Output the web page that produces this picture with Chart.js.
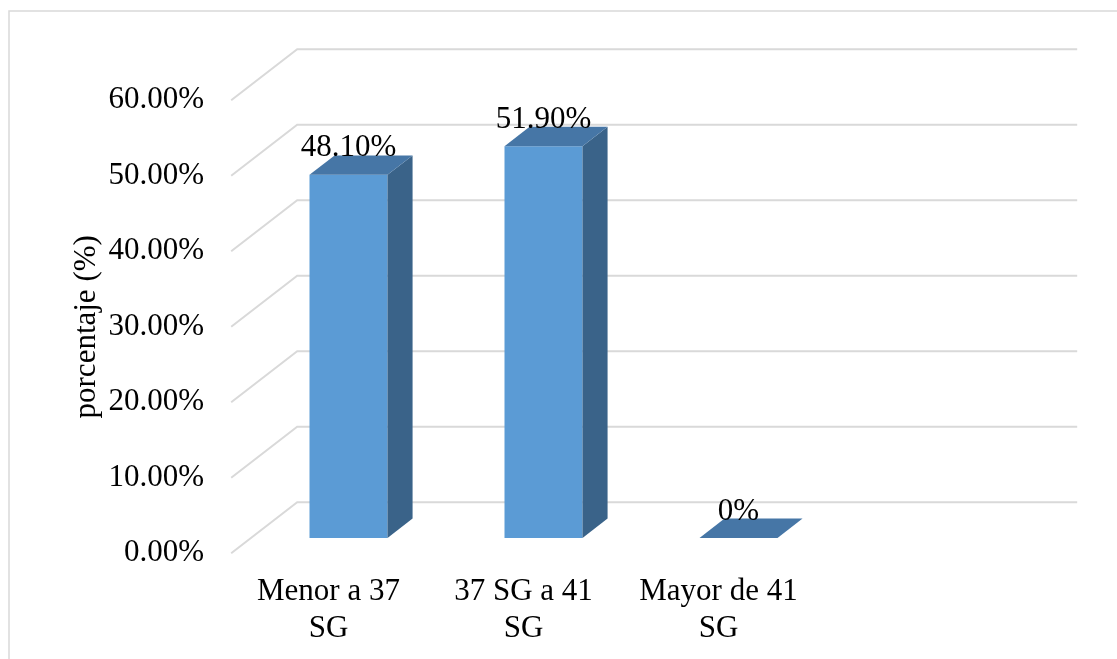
<!DOCTYPE html>
<html lang="es">
<head>
<meta charset="UTF-8">
<title>Edad gestacional</title>
<script src="https://cdn.jsdelivr.net/npm/chart.js"></script>
<style>
  html, body { margin: 0; padding: 0; background: #fff; }
  canvas { display: block; }
</style>
</head>
<body>
<canvas id="sgChart" width="1117" height="659"></canvas>
<script>
  // categorías (el cuarto hueco queda vacío, como en el gráfico 3D original)
  const categorias = [["Menor a 37", "SG"], ["37 SG a 41", "SG"], ["Mayor de 41", "SG"], ""];
  const porcentajes = [48.1, 51.9, 0, null];
  const ticksY = [0, 10, 20, 30, 40, 50, 60];
  const tituloY = "porcentaje (%)";

  const FUENTE = "'Liberation Serif', 'Times New Roman', serif";
  const FRENTE = "#5B9BD5", LADO = "#3A6389", TAPA = "#4676A6", REJILLA = "#D9D9D9";

  // vector de profundidad del piso; las barras van de 0.3 a 0.68 de esa profundidad
  const PISO = { dx: 66, dy: -51 };
  const POS_BARRA = 0.3, FONDO_BARRA = 0.68;

  const texto = v => v === 0 ? "0%" : v.toFixed(2) + "%";

  const efecto3d = {
    id: "efecto3d",
    beforeDatasetsDraw(chart) {
      const { ctx, chartArea: a, scales: { y } } = chart;
      ctx.save();
      // marco exterior
      ctx.strokeStyle = REJILLA;
      ctx.lineWidth = 1.5;
      ctx.strokeRect(9, 11, 1200, 700);
      // líneas de la pared lateral y de la pared del fondo
      ctx.lineWidth = 2;
      const fx = -POS_BARRA * PISO.dx, fy = -POS_BARRA * PISO.dy;
      const bx = (1 - POS_BARRA) * PISO.dx, by = (1 - POS_BARRA) * PISO.dy;
      ticksY.forEach(v => {
        const py = y.getPixelForValue(v);
        ctx.beginPath();
        ctx.moveTo(a.left + fx, py + fy);
        ctx.lineTo(a.left + bx, py + by);
        ctx.lineTo(a.right + bx, py + by);
        ctx.stroke();
      });
      ctx.restore();
    },
    afterDatasetsDraw(chart) {
      const { ctx } = chart;
      const meta = chart.getDatasetMeta(0);
      const ddx = (FONDO_BARRA - POS_BARRA) * PISO.dx;
      const ddy = (FONDO_BARRA - POS_BARRA) * PISO.dy;
      ctx.save();
      meta.data.forEach((bar, i) => {
        const v = porcentajes[i];
        if (v === null) return;
        const { x, y, base, width } = bar.getProps(["x", "y", "base", "width"], true);
        const l = x - width / 2, r = x + width / 2;
        // cara lateral
        if (base - y > 0.5) {
          ctx.fillStyle = LADO;
          ctx.beginPath();
          ctx.moveTo(r, y);
          ctx.lineTo(r + ddx, y + ddy);
          ctx.lineTo(r + ddx, base + ddy);
          ctx.lineTo(r, base);
          ctx.closePath();
          ctx.fill();
        }
        // tapa superior
        ctx.fillStyle = TAPA;
        ctx.beginPath();
        ctx.moveTo(l, y);
        ctx.lineTo(r, y);
        ctx.lineTo(r + ddx, y + ddy);
        ctx.lineTo(l + ddx, y + ddy);
        ctx.closePath();
        ctx.fill();
        // etiqueta de valor
        ctx.fillStyle = "#000";
        ctx.font = "31px " + FUENTE;
        ctx.textAlign = "center";
        ctx.textBaseline = "alphabetic";
        ctx.fillText(texto(v), x, y + ddy + 1);
      });
      ctx.restore();
    },
    afterDraw(chart) {
      const { ctx, scales: { y } } = chart;
      const cy = (y.getPixelForValue(0) + y.getPixelForValue(60)) / 2 - POS_BARRA * PISO.dy;
      ctx.save();
      ctx.translate(87, cy);
      ctx.rotate(-Math.PI / 2);
      ctx.fillStyle = "#000";
      ctx.font = "31px " + FUENTE;
      ctx.textAlign = "center";
      ctx.textBaseline = "middle";
      ctx.fillText(tituloY, 0, 0);
      ctx.restore();
    }
  };

  new Chart(document.getElementById("sgChart"), {
    type: "bar",
    data: {
      labels: categorias,
      datasets: [{
        data: porcentajes,
        backgroundColor: FRENTE,
        borderWidth: 0,
        barPercentage: 0.4,
        categoryPercentage: 1
      }]
    },
    options: {
      responsive: false,
      animation: false,
      devicePixelRatio: 1,
      layout: { padding: { left: 0, right: 86, top: 85, bottom: 0 } },
      plugins: { legend: { display: false }, tooltip: { enabled: false } },
      scales: {
        x: {
          grid: { display: false, drawTicks: false },
          border: { display: false },
          afterFit: s => { s.height = 121; },
          ticks: {
            color: "#000",
            font: { family: FUENTE, size: 31 },
            padding: 35,
            labelOffset: -20,
            maxRotation: 0,
            autoSkip: false
          }
        },
        y: {
          min: 0,
          max: 60,
          grid: { display: false, drawTicks: false },
          border: { display: false },
          afterFit: s => { s.width = 251; },
          afterBuildTicks: s => { s.ticks = ticksY.map(v => ({ value: v })); },
          ticks: {
            color: "#000",
            font: { family: FUENTE, size: 31 },
            padding: 47,
            labelOffset: 15,
            callback: v => v.toFixed(2) + "%"
          }
        }
      }
    },
    plugins: [efecto3d]
  });
</script>
</body>
</html>
